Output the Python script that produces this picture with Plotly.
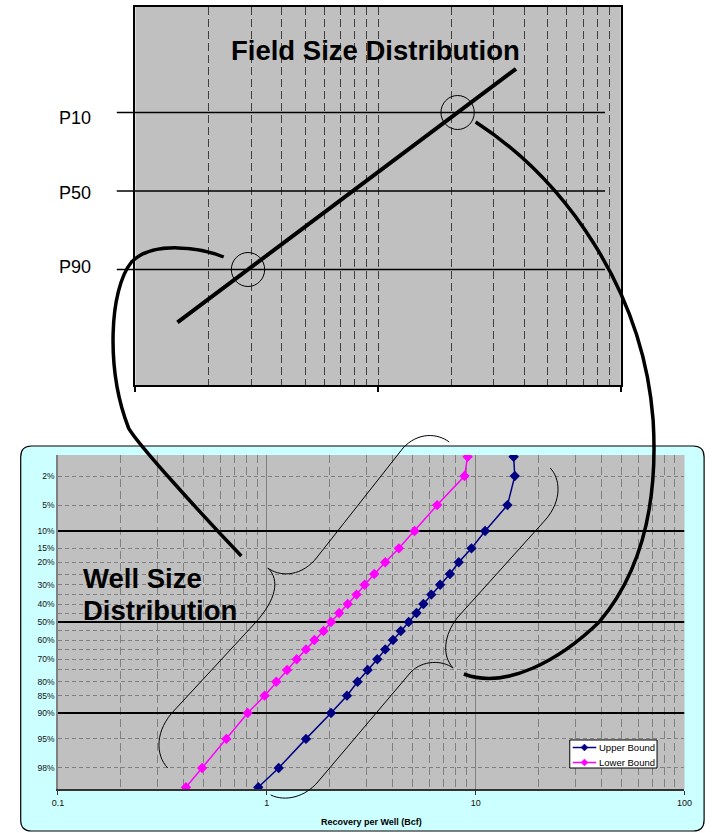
import math
import plotly.graph_objects as go
from statistics import NormalDist

# ---------------- data ----------------
# Well size distribution (bottom chart): cumulative probability (%) vs recovery per well (Bcf)
percentiles = [1, 2, 5, 10, 15, 20, 25, 30, 35, 40, 45, 50, 55, 60, 65, 70, 75, 80, 85, 90, 95, 98, 99]
upper_bound = [15.2, 15.4, 14.2, 11.1, 9.55, 8.30, 7.53, 6.76, 6.13, 5.62, 5.21, 4.78, 4.38,
               4.02, 3.69, 3.38, 3.04, 2.72, 2.42, 2.03, 1.54, 1.14, 0.91]
lower_bound = [9.15, 8.85, 6.54, 5.10, 4.29, 3.69, 3.27, 2.94, 2.69, 2.44, 2.22, 2.03, 1.87,
               1.69, 1.54, 1.39, 1.25, 1.11, 0.976, 0.81, 0.64, 0.49, 0.41]
series_names = ["Upper Bound", "Lower Bound"]
series_colors = ["#000080", "#FF00FF"]
y_tick_pcts = [2, 5, 10, 15, 20, 30, 40, 50, 60, 70, 80, 85, 90, 95, 98]
y_dash_pcts = [2, 5, 15, 20, 25, 30, 35, 40, 45, 55, 60, 65, 70, 75, 80, 85, 95, 98]
y_bold_pcts = [10, 50, 90]
x_tick_vals = [0.1, 1, 10, 100]
x_tick_text = ["0.1", "1", "10", "100"]

# Field size distribution (top chart)
field_size = [1.49, 37.0]
field_prob = [98.4, 2.3]
p_levels = [10, 50, 90]
p_labels = ["P10", "P50", "P90"]

# ---------------- helpers ----------------
nd = NormalDist()


def zq(p):
    return nd.inv_cdf(p / 100.0)


W, H = 717, 833


def px(x):
    return x / W


def py(y):
    return 1 - y / H


def path(cmds):
    out = []
    for c in cmds:
        if isinstance(c, str):
            out.append(c)
        else:
            out.append(f"{px(c[0]):.5f},{py(c[1]):.5f}")
    return " ".join(out)


FONT = "Arial, Liberation Sans, sans-serif"

minor_log = [m * d for d in (0.1, 1, 10) for m in range(2, 10)]

fig = go.Figure()

# ---------- top chart traces ----------
fig.add_trace(go.Scatter(
    x=field_size, y=[zq(p) for p in field_prob], mode="lines",
    line=dict(color="black", width=4), xaxis="x", yaxis="y",
    showlegend=False, hoverinfo="skip"))

# ---------- bottom chart traces ----------
for p in y_bold_pcts:
    fig.add_trace(go.Scatter(
        x=[x_tick_vals[0], x_tick_vals[-1]], y=[zq(p), zq(p)], mode="lines",
        line=dict(color="black", width=2), xaxis="x2", yaxis="y2",
        showlegend=False, hoverinfo="skip"))

zs = [zq(p) for p in percentiles]
for name, col, vals in zip(series_names, series_colors, [upper_bound, lower_bound]):
    fig.add_trace(go.Scatter(
        x=vals, y=zs, mode="lines+markers", name=name,
        line=dict(color=col, width=1.5),
        marker=dict(symbol="diamond", size=8, color=col),
        xaxis="x2", yaxis="y2", showlegend=False))

# ---------- shapes ----------
shapes = []
# cyan rounded frame of lower chart
L, R, T, B, r = 15, 712, 446, 831, 11
shapes.append(dict(
    type="path", xref="paper", yref="paper", layer="below",
    path=path(["M", (L + r, T), "L", (R - r, T), "Q", (R, T), (R, T + r), "L", (R, B - r),
               "Q", (R, B), (R - r, B), "L", (L + r, B), "Q", (L, B), (L, B - r),
               "L", (L, T + r), "Q", (L, T), (L + r, T), "Z"]),
    fillcolor="#CCFFFF", line=dict(color="black", width=1.2)))
# grey plot areas
for xr, yr in (("x domain", "y domain"), ("x2 domain", "y2 domain")):
    shapes.append(dict(type="rect", xref=xr, yref=yr, x0=0, x1=1, y0=0, y1=1,
                       layer="below", fillcolor="#C0C0C0", line=dict(width=0)))

# P10 / P50 / P90 lines in top chart
for p in p_levels:
    shapes.append(dict(type="line", xref="paper", yref="y", x0=px(113), x1=px(611),
                       y0=zq(p), y1=zq(p), line=dict(color="black", width=1.5)))

# circles at P90 and P10 on the field line (pixel positions of the top axes)
top_x0, top_x1, top_y0, top_y1 = 132, 627, 7, 385
yr_top = (3.167, -3.004)
lz = [zq(p) for p in field_prob]
lx = [math.log10(v) for v in field_size]
for p in (90, 10):
    t = (zq(p) - lz[0]) / (lz[1] - lz[0])
    lv = lx[0] + t * (lx[1] - lx[0])
    cx = top_x0 + (lv - 0) / 2 * (top_x1 - top_x0)
    cy = top_y0 + (zq(p) - yr_top[1]) / (yr_top[0] - yr_top[1]) * (top_y1 - top_y0)
    rr = 17
    shapes.append(dict(type="circle", xref="paper", yref="paper",
                       x0=px(cx - rr), x1=px(cx + rr), y0=py(cy + rr), y1=py(cy - rr),
                       line=dict(color="black", width=1)))

# hand-drawn connector curves (thick)
thick = dict(color="black", width=3.5)
shapes.append(dict(type="path", xref="paper", yref="paper", line=thick,
                   path=path(["M", (222, 257), "C", (200, 248), (150, 240), (128, 262),
                              "C", (105, 290), (102, 370), (125, 428),
                              "C", (135, 445), (200, 515), (240, 556)])))
shapes.append(dict(type="path", xref="paper", yref="paper", line=thick,
                   path=path(["M", (479, 122), "C", (570, 180), (650, 290), (660, 420),
                              "C", (665, 500), (650, 570), (605, 622),
                              "C", (565, 660), (510, 690), (467, 674)])))
# braces (thin)
thin = dict(color="black", width=1)
shapes.append(dict(type="path", xref="paper", yref="paper", line=thin,
                   path=path(["M", (165, 768), "C", (152, 755), (152, 730), (172, 710),
                              "L", (255, 622), "C", (275, 600), (280, 580), (267, 568)])))
shapes.append(dict(type="path", xref="paper", yref="paper", line=thin,
                   path=path(["M", (267, 568), "C", (278, 576), (298, 578), (315, 560),
                              "L", (405, 448), "C", (420, 432), (440, 433), (452, 442)])))
shapes.append(dict(type="path", xref="paper", yref="paper", line=thin,
                   path=path(["M", (555, 468), "C", (565, 478), (568, 500), (550, 520),
                              "L", (460, 618), "C", (447, 635), (444, 655), (456, 668)])))
shapes.append(dict(type="path", xref="paper", yref="paper", line=thin,
                   path=path(["M", (456, 668), "C", (445, 660), (425, 660), (413, 672),
                              "L", (318, 782), "C", (305, 797), (285, 802), (270, 795)])))

# ---------- legend (drawn box) ----------
ann = []
lg_x0, lg_y0, lg_x1, lg_y1 = 575, 740, 664, 768
shapes.append(dict(type="rect", xref="paper", yref="paper", x0=px(lg_x0), x1=px(lg_x1),
                   y0=py(lg_y1), y1=py(lg_y0), fillcolor="white", line=dict(color="black", width=1)))
for i, (name, col) in enumerate(zip(series_names, series_colors)):
    ly = 747.5 + i * 15
    shapes.append(dict(type="line", xref="paper", yref="paper", x0=px(578), x1=px(602),
                       y0=py(ly), y1=py(ly), line=dict(color=col, width=1.5)))
    d = 3.5
    shapes.append(dict(type="path", xref="paper", yref="paper", fillcolor=col,
                       line=dict(color=col, width=0.5),
                       path=path(["M", (590, ly - d), "L", (590 + d, ly), "L", (590, ly + d),
                                  "L", (590 - d, ly), "Z"])))
    ann.append(dict(text=name, x=px(603), y=py(ly), xref="paper", yref="paper",
                    xanchor="left", yanchor="middle", showarrow=False,
                    font=dict(family=FONT, size=9.5, color="black")))

# ---------- annotations ----------
ann.append(dict(text="<b>Field Size Distribution</b>", x=px(376.5), y=py(50.5), xref="paper",
                yref="paper", xanchor="center", yanchor="middle", showarrow=False,
                font=dict(family=FONT, size=27.5, color="black")))
ann.append(dict(text="<b>Well Size</b>", x=px(77), y=py(578), xref="paper", yref="paper",
                xanchor="left", yanchor="middle", showarrow=False,
                font=dict(family=FONT, size=27.5, color="black")))
ann.append(dict(text="<b>Distribution</b>", x=px(77), y=py(610.5), xref="paper", yref="paper",
                xanchor="left", yanchor="middle", showarrow=False,
                font=dict(family=FONT, size=27.5, color="black")))
for lab, yc in zip(p_labels, (118, 193, 267)):
    ann.append(dict(text=lab, x=px(89), y=py(yc), xref="paper", yref="paper",
                    xanchor="right", yanchor="middle", showarrow=False,
                    font=dict(family=FONT, size=18, color="black")))
ann.append(dict(text="<b>Recovery per Well (Bcf)</b>", x=px(372.5), y=py(822), xref="paper",
                yref="paper", xanchor="center", yanchor="middle", showarrow=False,
                font=dict(family=FONT, size=9, color="black")))

fig.update_layout(
    width=W, height=H, autosize=False,
    margin=dict(l=0, r=0, t=0, b=0, pad=0),
    paper_bgcolor="white", plot_bgcolor="rgba(0,0,0,0)",
    font=dict(family=FONT, color="black"),
    shapes=shapes, annotations=ann, showlegend=False,
    xaxis=dict(domain=[px(132), px(627)], type="log", range=[0, 2], anchor="y",
               tickvals=[1, 10, 100], ticks="outside", ticklen=5, tickwidth=1.5, tickcolor="black",
               showticklabels=False, showgrid=True, gridcolor="#404040", griddash="8px,4px",
               gridwidth=1,
               minor=dict(tickmode="array", tickvals=[m * d for d in (1, 10) for m in range(2, 10)],
                          showgrid=True, gridcolor="#404040", griddash="8px,4px", gridwidth=1,
                          ticks=""),
               showline=True, linecolor="black", linewidth=1.5, mirror=True, zeroline=False,
               fixedrange=True),
    yaxis=dict(domain=[py(385), py(7)], range=list(yr_top), anchor="x",
               showgrid=False, showticklabels=False, ticks="", zeroline=False,
               showline=True, linecolor="black", linewidth=1.5, mirror=True, fixedrange=True),
    xaxis2=dict(domain=[px(53), px(692)], type="log", range=[-1, 2], anchor="y2",
                tickvals=x_tick_vals, ticktext=x_tick_text, ticks="outside", ticklen=4,
                tickcolor="#333333", tickwidth=1, tickfont=dict(family=FONT, size=9, color="#111111"),
                showgrid=True, gridcolor="#808080", gridwidth=1,
                minor=dict(tickmode="array", tickvals=minor_log, showgrid=True,
                           gridcolor="#808080", griddash="8px,4px", gridwidth=1, ticks=""),
                showline=True, linecolor="#333333", linewidth=1.5, zeroline=False, fixedrange=True),
    yaxis2=dict(domain=[py(789), py(455)], range=[2.35, -2.35], anchor="x2",
                tickvals=[zq(p) for p in y_tick_pcts], ticktext=[f"{p}%" for p in y_tick_pcts],
                ticks="", showgrid=False, zeroline=False,
                tickfont=dict(family=FONT, size=8.5, color="#111111"),
                minor=dict(tickmode="array", tickvals=[zq(p) for p in y_dash_pcts], showgrid=True,
                           gridcolor="#808080", griddash="4px,3px", gridwidth=1, ticks=""),
                showline=True, linecolor="#808080", linewidth=1.5, fixedrange=True),
)

fig.write_html(
    "out.html",
    config={"displayModeBar": False, "responsive": False},
    post_script="document.body.style.margin='0';document.documentElement.style.overflow='hidden';document.body.style.overflow='hidden';",
)
